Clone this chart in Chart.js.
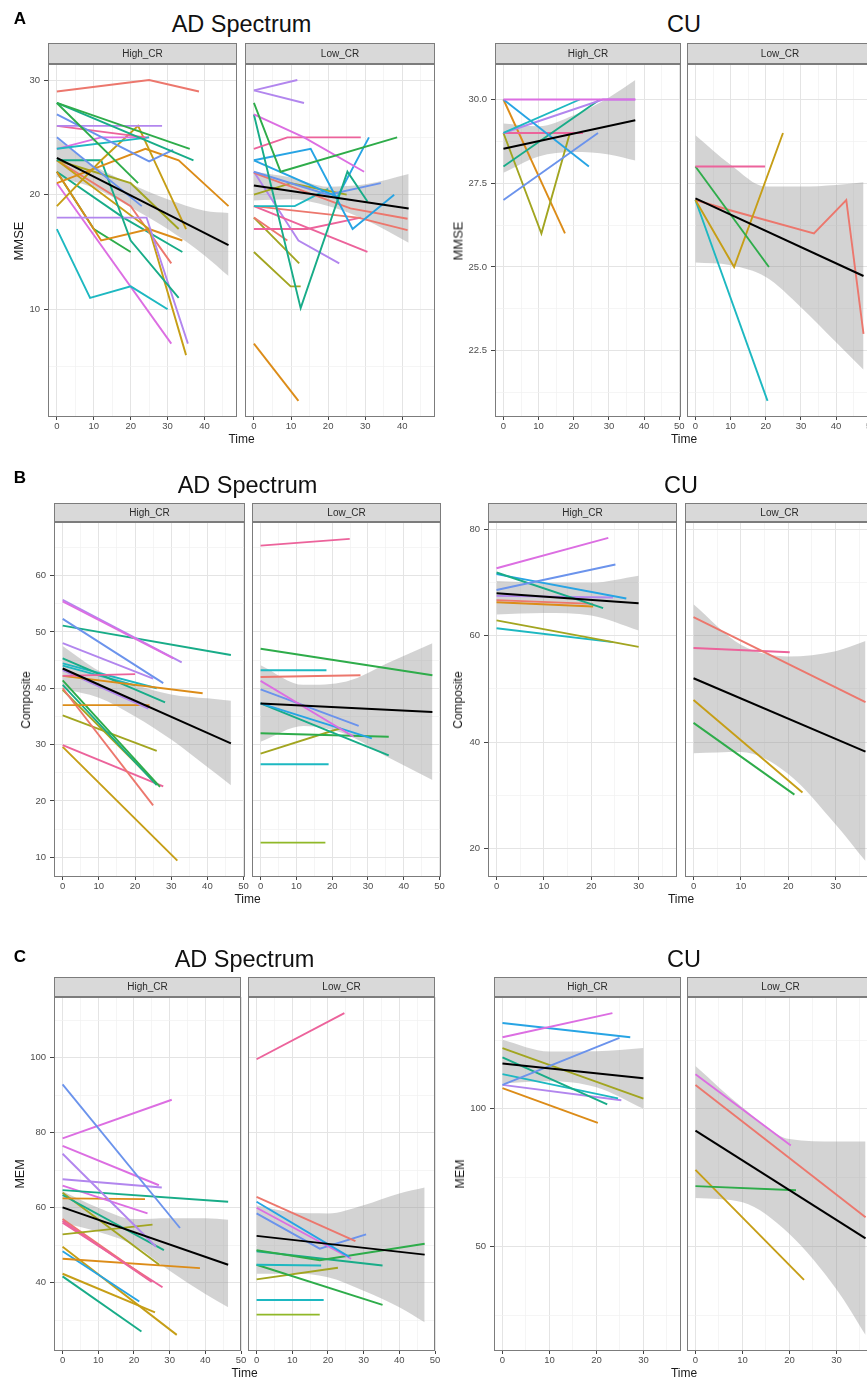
<!DOCTYPE html>
<html>
<head>
<meta charset="utf-8">
<script src="https://cdn.jsdelivr.net/npm/chart.js@4.4.1/dist/chart.umd.min.js"></script>
<style>
  body { margin: 0; background: #fff; width: 867px; height: 1382px; overflow: hidden; position: relative;
         font-family: "Liberation Sans", Arial, sans-serif; }
  canvas { position: absolute; }
  .txt { position: absolute; white-space: nowrap; transform: translate(-50%, -50%); }
</style>
</head>
<body>
<script>
// ---------- labels and ticks ----------
const FACETS = ['High_CR', 'Low_CR'];
const GROUP_TITLES = ['AD Spectrum', 'CU'];
const ROW_LETTERS = ['A', 'B', 'C'];
const MEASURES = ['MMSE', 'Composite', 'MEM'];

const TIME_TICKS = [0, 10, 20, 30, 40, 50];
const MMSE_AD_TICKS = [10, 20, 30];
const MMSE_CU_TICKS = [22.5, 25, 27.5, 30];
const COMP_AD_TICKS = [10, 20, 30, 40, 50, 60];
const COMP_CU_TICKS = [20, 40, 60, 80];
const MEM_AD_TICKS = [40, 60, 80, 100];
const MEM_CU_TICKS = [50, 100];

// ---------- A: MMSE ----------
// each subject: [[time, value], ...]
const A_AD_HIGH = [
  [[0,29],[25,30],[38.5,29]], [[0,28],[36,24]], [[0,28],[37,23]], [[0,28],[22,21]],
  [[0,27],[25,22.9],[31.5,23.9]], [[0,26],[28.5,26]], [[0,26],[24,25]], [[0,24],[25,25]],
  [[0,24],[12,25],[25,25]], [[0,25],[23,19]], [[0,19],[12,23],[22,26],[35,17]],
  [[0,21],[24,24],[33,23],[46.5,19]], [[0,23],[12,23],[20,16],[33,11]],
  [[0,17],[9,11],[20,12],[30,10]], [[0,18],[24.3,18],[35.5,7]], [[0,21],[31,7]],
  [[0,23],[25,17],[35,6]], [[0,22],[12,16],[25,17],[34,16]], [[0,22],[10,17],[20,15]],
  [[0,23],[20,19],[31,14]], [[0,22],[18,18],[34,15]], [[0,23],[20,21],[33,17]]
];
const A_AD_HIGH_COL = ['r','G','t','G','B','v','p','c','m','B','y','o','t','c','v','m','y','o','G','r','t','l'];
const A_AD_HIGH_FIT = [[0,23.2],[46.5,15.6]];
const A_AD_HIGH_BAND = [[0,21.55,24.85],[10,20.6,22.55],[20,18.9,20.95],[30,17.0,19.6],[40,14.7,18.6],[46.5,12.9,18.4]];

const A_AD_LOW = [
  [[0,29.1],[11.7,30]], [[0,29.1],[13.5,28]], [[0,28],[7.2,22],[38.6,25]],
  [[0,27],[13.5,25],[29.7,22]], [[0,24],[9,25],[28.8,25]], [[0,27],[12.6,10.1],[25.2,22],[30.6,19.4]],
  [[0,23],[15.3,24],[26.6,17],[37.8,20]], [[0,23],[22.5,19.8],[31,25]], [[0,22],[20,20],[34.2,21]],
  [[0,21.9],[26,18.8],[41.4,17.9]], [[0,20],[10,21],[25,20]], [[0,19],[11,19],[20,20.5]],
  [[0,19],[28,18],[41.4,16.9]], [[0,17],[14.4,17],[28.8,18]], [[0,19],[30.6,15]],
  [[0,22],[12,16],[23,14]], [[0,18],[9,16]], [[0,18],[12.2,14]], [[0,15],[9.9,12],[12.6,12]],
  [[0,7],[12,2]]
];
const A_AD_LOW_COL = ['v','v','G','m','p','t','b','b','B','r','l','c','r','p','p','v','r','l','l','o'];
const A_AD_LOW_FIT = [[0,20.8],[41.7,18.8]];
const A_AD_LOW_BAND = [[0,19.5,22.0],[10,19.6,21.5],[20,19.0,20.7],[30,17.8,20.9],[41.7,15.8,21.8]];

const A_CU_HIGH = [
  [[0,30],[37.5,30]], [[0,29],[21.7,30]], [[0,30],[24.3,28]], [[0,29],[28.3,30],[37.5,30]],
  [[0,28],[27.4,30]], [[0,29],[22.6,29]], [[0,27],[26.9,29]], [[0,29],[10.8,26],[18.9,29]],
  [[0,30],[17.5,26]]
];
const A_CU_HIGH_COL = ['m','c','b','v','t','p','B','l','o'];
const A_CU_HIGH_FIT = [[0,28.53],[37.5,29.38]];
const A_CU_HIGH_BAND = [[0,27.81,29.28],[10,28.3,29.2],[20,28.43,29.53],[30,28.36,30.06],[37.5,28.18,30.58]];

const A_CU_LOW = [
  [[0,28],[19.8,28]], [[0,28],[20.9,25]], [[0,27],[11,25],[24.9,29]], [[0,27],[20.5,21]],
  [[0,27],[9.6,26.7],[33.7,26],[42.9,27],[47.8,23]]
];
const A_CU_LOW_COL = ['p','G','y','c','r'];
const A_CU_LOW_FIT = [[0,27.05],[47.8,24.73]];
const A_CU_LOW_BAND = [[0,25.13,28.93],[10,25.05,28.05],[20,24.7,27.4],[30,23.8,27.4],[40,22.75,27.45],[47.8,21.93,27.53]];

// ---------- B: Composite ----------
const B_AD_HIGH = [
  [[0,55.4],[30.6,45.3]], [[0,55.7],[32.9,44.6]], [[0,52.3],[27.8,40.9]], [[0,48],[25,41.7]],
  [[0,51.1],[46.5,45.9]], [[0,42.2],[20,42.5]], [[0,42.2],[38.7,39.1]], [[0,45.3],[28.3,37.5]],
  [[0,44.4],[26,40]], [[0,43.2],[23.7,36.4]], [[0,37],[24,37]], [[0,41.4],[26.9,22.5]],
  [[0,40.6],[26,22.8]], [[0,40],[25,19.2]], [[0,35.2],[26,28.9]], [[0,29.9],[27.8,22.6]],
  [[0,29.6],[31.7,9.4]], [[0,39.7],[26,23]], [[0,44],[20,40.5]]
];
const B_AD_HIGH_COL = ['m','v','B','v','t','p','o','t','c','v','o','G','t','r','l','p','y','l','c'];
const B_AD_HIGH_FIT = [[0,43.5],[46.5,30.2]];
const B_AD_HIGH_BAND = [[0,39.9,47.5],[10,38.3,43.1],[20,35.0,40.6],[30,30.9,38.9],[40,26.0,38.2],[46.5,22.8,37.8]];

const B_AD_LOW = [
  [[0,65.3],[24.9,66.5]], [[0,47],[48,42.3]], [[0,43.2],[18.4,43.2]], [[0,42],[27.9,42.3]],
  [[0,41.3],[26,31.4]], [[0,39.8],[27.4,33.3]], [[0,37.3],[31.1,31.1]], [[0,37.3],[35.8,28.1]],
  [[0,32],[35.8,31.4]], [[0,28.4],[22.3,32.9]], [[0,26.5],[19,26.5]], [[0,12.6],[18.1,12.6]]
];
const B_AD_LOW_COL = ['p','G','c','r','m','B','b','t','G','l','c','g'];
const B_AD_LOW_FIT = [[0,37.3],[48,35.8]];
const B_AD_LOW_BAND = [[0,30.5,44.1],[12,33.3,40.6],[24,31.8,41.2],[36,27.6,44.6],[48,23.7,48.0]];

const B_CU_HIGH = [
  [[0,72.7],[23.6,78.4]], [[0,68.6],[25.1,73.4]], [[0,71.9],[22.5,65.2]], [[0,71.6],[27.4,67.0]],
  [[0,67.5],[24.6,67.2]], [[0,66.7],[20.4,66.0]], [[0,66.3],[20.4,65.5]], [[0,62.9],[30,57.9]],
  [[0,61.4],[24.6,58.8]]
];
const B_CU_HIGH_COL = ['m','B','t','b','v','r','o','l','c'];
const B_CU_HIGH_FIT = [[0,68.0],[30,66.1]];
const B_CU_HIGH_BAND = [[0,64.0,70.3],[10,64.3,70.0],[20,63.8,70.0],[30,61.0,71.3]];

const B_CU_LOW = [
  [[0,63.5],[36.3,47.5]], [[0,57.7],[20.3,56.9]], [[0,47.9],[23,30.5]], [[0,43.6],[21.3,30.1]]
];
const B_CU_LOW_COL = ['r','p','y','G'];
const B_CU_LOW_FIT = [[0,52.0],[36.3,38.2]];
const B_CU_LOW_BAND = [[0,37.9,65.9],[10,38.1,58.3],[20,34.0,56.1],[30,24.5,57.1],[36.3,17.6,59.0]];

// ---------- C: MEM ----------
const C_AD_HIGH = [
  [[0,92.9],[32.9,54.6]], [[0,78.5],[30.6,88.8]], [[0,76.5],[27,66]], [[0,74.4],[26.2,49.6]],
  [[0,67.6],[27.8,65.4]], [[0,64.7],[46.4,61.6]], [[0,65.9],[23.8,58.5]], [[0,62.5],[23.1,62.3]],
  [[0,63.4],[28.4,48.7]], [[0,64],[27.1,44.8]], [[0,52.9],[25.2,55.5]], [[0,56.5],[25,40.2]],
  [[0,57],[24,41]], [[0,56],[28,38.8]], [[0,46.4],[38.5,43.9]], [[0,48.4],[21.5,35.0]],
  [[0,49.6],[32,26.1]], [[0,42.4],[25.9,32.1]], [[0,41.7],[22.1,27.0]]
];
const C_AD_HIGH_COL = ['B','m','m','v','v','t','m','o','t','l','l','p','r','p','o','b','y','y','t'];
const C_AD_HIGH_FIT = [[0,60.1],[46.4,44.8]];
const C_AD_HIGH_BAND = [[0,56.0,64.4],[10,53.6,60.0],[20,50.0,57.0],[30,43.2,57.2],[40,37.0,57.2],[46.4,33.5,56.8]];

const C_AD_LOW = [
  [[0,99.6],[24.6,111.9]], [[0,62.9],[27.7,51.1]], [[0,61.6],[26,46.9]], [[0,60],[26.5,46.4]],
  [[0,58.5],[17.7,49.1],[30.7,52.9]], [[0,48.7],[17.7,46],[47.1,50.4]], [[0,48.4],[35.3,44.6]],
  [[0,44.8],[18.1,44.6]], [[0,44.8],[35.3,34.1]], [[0,40.9],[22.8,44]], [[0,35.4],[18.8,35.4]],
  [[0,31.5],[17.7,31.5]]
];
const C_AD_LOW_COL = ['p','r','b','m','B','G','t','c','G','l','c','g'];
const C_AD_LOW_FIT = [[0,52.5],[47.1,47.5]];
const C_AD_LOW_BAND = [[0,42.4,60.7],[10,42.5,58.8],[20,41.5,58.5],[30,37.9,60.7],[40,33.5,63.8],[47.1,29.5,65.4]];

const C_CU_HIGH = [
  [[0,126],[23.4,134.8]], [[0,131.2],[27.2,126]], [[0,108.7],[24.9,125.8]], [[0,122.1],[30,103.7]],
  [[0,118.7],[22.3,101.6]], [[0,112.6],[24.6,103.8]], [[0,108.7],[25.3,103.1]], [[0,107.5],[20.3,94.9]]
];
const C_CU_HIGH_COL = ['m','b','B','l','t','c','v','o'];
const C_CU_HIGH_FIT = [[0,116.5],[30,111.1]];
const C_CU_HIGH_BAND = [[0,109.2,125.1],[10,110.0,120.8],[20,107.8,120.9],[30,100.0,122.1]];

const C_CU_LOW = [
  [[0,112.6],[20.3,86.7]], [[0,108.7],[36.2,60.6]], [[0,71.9],[21.4,70.4]], [[0,77.8],[23.1,37.8]]
];
const C_CU_LOW_COL = ['m','r','G','y'];
const C_CU_LOW_FIT = [[0,92.1],[36.2,52.9]];
const C_CU_LOW_BAND = [[0,67.6,115.6],[10,66.0,100.5],[20,54.5,89.0],[30,34.4,88.1],[36.2,17.8,88.1]];

// ---------- styling ----------
const PALETTE = {
  r:'#EC776D', o:'#DC8C18', y:'#C69E16', l:'#A2A520', g:'#90B828', G:'#2EAC4A', t:'#18AC88',
  c:'#1DB8C1', b:'#27A4E4', B:'#6B93EC', v:'#B286EE', m:'#DC6EE2', p:'#EC639B'
};
const FONT = '"Liberation Sans", Arial, sans-serif';

// layout of every group of two facets (pixels)
const GROUPS = [
  { row:0, g:0, gx:0,   panels:[[48,237],[245,435]], stripTop:43,  top:64,  bottom:417,  yTitleX:18,
    x:[-2.4,48.8], y:[0.6,31.4],   yt:MMSE_AD_TICKS, dec:0, titleSize:13,
    data:[[A_AD_HIGH,A_AD_HIGH_COL,A_AD_HIGH_FIT,A_AD_HIGH_BAND],[A_AD_LOW,A_AD_LOW_COL,A_AD_LOW_FIT,A_AD_LOW_BAND]] },
  { row:0, g:1, gx:440, panels:[[495,681],[687,873]], stripTop:43,  top:64,  bottom:417,  yTitleX:458,
    x:[-2.4,50.5], y:[20.52,31.06], yt:MMSE_CU_TICKS, dec:1, titleSize:13,
    data:[[A_CU_HIGH,A_CU_HIGH_COL,A_CU_HIGH_FIT,A_CU_HIGH_BAND],[A_CU_LOW,A_CU_LOW_COL,A_CU_LOW_FIT,A_CU_LOW_BAND]] },
  { row:1, g:0, gx:0,   panels:[[54,245],[252,441]], stripTop:503, top:522, bottom:877,  yTitleX:26,
    x:[-2.4,50.4], y:[6.5,69.5],   yt:COMP_AD_TICKS, dec:0, titleSize:12,
    data:[[B_AD_HIGH,B_AD_HIGH_COL,B_AD_HIGH_FIT,B_AD_HIGH_BAND],[B_AD_LOW,B_AD_LOW_COL,B_AD_LOW_FIT,B_AD_LOW_BAND]] },
  { row:1, g:1, gx:440, panels:[[488,677],[685,874]], stripTop:503, top:522, bottom:877,  yTitleX:458,
    x:[-1.8,38.1], y:[14.6,81.4],  yt:COMP_CU_TICKS, dec:0, titleSize:12,
    data:[[B_CU_HIGH,B_CU_HIGH_COL,B_CU_HIGH_FIT,B_CU_HIGH_BAND],[B_CU_LOW,B_CU_LOW_COL,B_CU_LOW_FIT,B_CU_LOW_BAND]] },
  { row:2, g:0, gx:0,   panels:[[54,241],[248,435]], stripTop:977, top:997, bottom:1351, yTitleX:20,
    x:[-2.4,50.0], y:[21.8,116.2], yt:MEM_AD_TICKS, dec:0, titleSize:12.5,
    data:[[C_AD_HIGH,C_AD_HIGH_COL,C_AD_HIGH_FIT,C_AD_HIGH_BAND],[C_AD_LOW,C_AD_LOW_COL,C_AD_LOW_FIT,C_AD_LOW_BAND]] },
  { row:2, g:1, gx:440, panels:[[494,681],[687,874]], stripTop:977, top:997, bottom:1351, yTitleX:460,
    x:[-1.8,38.0], y:[11.95,140.65], yt:MEM_CU_TICKS, dec:0, titleSize:12.5,
    data:[[C_CU_HIGH,C_CU_HIGH_COL,C_CU_HIGH_FIT,C_CU_HIGH_BAND],[C_CU_LOW,C_CU_LOW_COL,C_CU_LOW_FIT,C_CU_LOW_BAND]] }
];
const TITLE_Y = [24, 485, 959];
const LETTER_Y = [19, 478, 957];

// strip on top of the panel + grey frame round it
const panelFrame = {
  id: 'panelFrame',
  afterDraw(chart, args, o) {
    const { ctx, chartArea: a } = chart;
    ctx.save();
    ctx.strokeStyle = '#7c7c7c';
    ctx.lineWidth = 1;
    ctx.strokeRect(a.left + 0.5, a.top + 0.5, a.width - 1, a.height - 1);
    ctx.fillStyle = '#d9d9d9';
    ctx.fillRect(a.left, a.top - o.h, a.width, o.h);
    ctx.strokeRect(a.left + 0.5, a.top - o.h + 0.5, a.width - 1, o.h - 1);
    ctx.fillStyle = '#2a2a2a';
    ctx.font = '10px ' + FONT;
    ctx.textAlign = 'center';
    ctx.textBaseline = 'middle';
    ctx.fillText(o.label, (a.left + a.right) / 2, a.top - o.h / 2 + 0.5);
    ctx.restore();
  }
};

function text(str, x, y, css) {
  const d = document.createElement('div');
  d.className = 'txt';
  d.textContent = str;
  d.style.left = x + 'px';
  d.style.top = y + 'px';
  Object.assign(d.style, css);
  document.body.appendChild(d);
}

// grid values every half step, majors get labels
function gridValues(majors, min, max) {
  const step = majors[1] - majors[0];
  const half = step / 2;
  const out = [];
  for (let v = majors[0] - step * 10; v <= max + 1e-9; v += half) {
    const r = Math.round(v * 1000) / 1000;
    if (r >= min - 1e-9) out.push(r);
  }
  return out;
}
const isIn = (arr, v) => arr.some(m => Math.abs(m - v) < 1e-6);

function axis(range, majors, showLabels, dec, vertical, size) {
  const vals = gridValues(majors, range[0], range[1]);
  return {
    type: 'linear', min: range[0], max: range[1], bounds: 'data',
    afterBuildTicks: s => { s.ticks = vals.map(v => ({ value: v })); },
    afterFit: s => {
      if (vertical) { s.width = size; s.paddingTop = 0; s.paddingBottom = 0; }
      else { s.height = size; s.paddingLeft = 0; s.paddingRight = 0; }
    },
    border: { display: false },
    grid: {
      color: c => isIn(majors, c.tick.value) ? '#e4e4e4' : '#f1f1f1',
      lineWidth: c => isIn(majors, c.tick.value) ? 1 : 0.7,
      drawTicks: showLabels,
      tickLength: vertical ? 4 : 3,
      tickWidth: 1,
      tickColor: c => isIn(majors, c.tick.value) ? '#444' : 'rgba(0,0,0,0)'
    },
    ticks: {
      display: showLabels, autoSkip: false, maxRotation: 0, padding: vertical ? 4 : 1,
      color: '#4d4d4d', font: { family: FONT, size: 9.5 },
      callback: v => isIn(majors, v) ? v.toFixed(dec) : ''
    }
  };
}

function facetChart(g, fi) {
  const [pl, pr] = g.panels[fi];
  const left = fi === 0;
  const yW = left ? pl - g.gx : 1;
  const cLeft = left ? g.gx : pl - 1;
  const padR = 10;
  const w = pr - cLeft + padR;
  const stripH = g.top - g.stripTop;
  const xH = 17;
  const h = g.bottom - g.stripTop + xH;

  const cv = document.createElement('canvas');
  cv.width = w; cv.height = h;
  cv.style.left = cLeft + 'px';
  cv.style.top = g.stripTop + 'px';
  cv.style.width = w + 'px';
  cv.style.height = h + 'px';
  document.body.appendChild(cv);

  const [lines, cols, fit, band] = g.data[fi];
  const pts = arr => arr.map(p => ({ x: p[0], y: p[1] }));
  const datasets = [
    { data: pts(fit), borderColor: '#000', borderWidth: 2, order: 0 },
    { data: band.map(b => ({ x: b[0], y: b[1] })), borderColor: 'rgba(0,0,0,0)', borderWidth: 0,
      cubicInterpolationMode: 'monotone', order: 3 },
    { data: band.map(b => ({ x: b[0], y: b[2] })), borderColor: 'rgba(0,0,0,0)', borderWidth: 0,
      cubicInterpolationMode: 'monotone', fill: 1, backgroundColor: 'rgba(150,150,150,0.42)', order: 2 }
  ];
  lines.forEach((ln, i) => {
    datasets.push({ data: pts(ln), borderColor: PALETTE[cols[i]], borderWidth: 1.9, order: 1 });
  });

  new Chart(cv, {
    type: 'line',
    data: { datasets },
    options: {
      responsive: false, animation: false, events: [],
      layout: { padding: { top: stripH, right: padR, left: 0, bottom: 0 } },
      elements: { point: { radius: 0 }, line: { tension: 0 } },
      plugins: {
        legend: { display: false }, tooltip: { enabled: false },
        panelFrame: { label: FACETS[fi], h: stripH }
      },
      scales: {
        x: axis(g.x, TIME_TICKS, true, 0, false, xH),
        y: axis(g.y, g.yt, left, g.dec, true, yW)
      }
    },
    plugins: [panelFrame]
  });
}

GROUPS.forEach(g => {
  facetChart(g, 0);
  facetChart(g, 1);
  const cx = (g.panels[0][0] + g.panels[1][1]) / 2;
  text(GROUP_TITLES[g.g], cx, TITLE_Y[g.row], { fontSize: '23.5px', color: '#111' });
  text('Time', cx, g.bottom + 22, { fontSize: '12px', color: '#1a1a1a' });
  text(MEASURES[g.row], g.yTitleX, (g.top + g.bottom) / 2,
       { fontSize: g.titleSize + 'px', color: '#1a1a1a', transform: 'translate(-50%, -50%) rotate(-90deg)' });
});
ROW_LETTERS.forEach((l, i) => text(l, 20, LETTER_Y[i], { fontSize: '17px', fontWeight: 'bold', color: '#000' }));
</script>
</body>
</html>
